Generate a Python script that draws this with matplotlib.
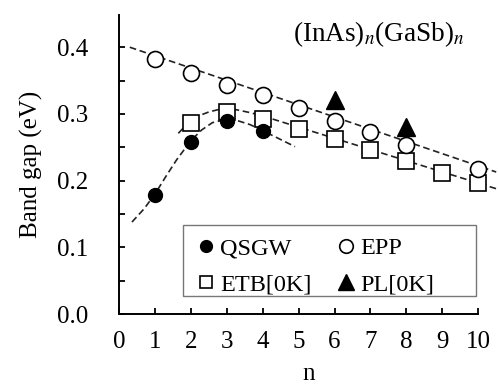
import matplotlib
matplotlib.use("Agg")
import matplotlib.pyplot as plt
from matplotlib.patches import Rectangle

plt.rcParams["font.family"] = ["Liberation Serif", "DejaVu Serif"]
plt.rcParams["mathtext.fontset"] = "stix"

# Donnees
n_qsgw = [1, 2, 3, 4]
gap_qsgw = [0.178, 0.258, 0.289, 0.275]

n_epp = [1, 2, 3, 4, 5, 6, 7, 8, 10]
gap_epp = [0.383, 0.361, 0.344, 0.329, 0.309, 0.289, 0.273, 0.253, 0.218]

n_etb = [2, 3, 4, 5, 6, 7, 8, 9, 10]
gap_etb = [0.286, 0.303, 0.292, 0.278, 0.263, 0.246, 0.229, 0.212, 0.196]

n_pl = [6, 8]
gap_pl = [0.321, 0.281]

# Courbes de tendance (pointillés)
trend_qsgw_n = [0.36, 0.7, 1.0, 1.3, 1.6, 2.0, 2.3, 2.6, 3.0, 3.3, 3.65, 4.0, 4.45, 4.9]
trend_qsgw_gap = [0.138, 0.158, 0.180, 0.206, 0.231, 0.260, 0.276, 0.287, 0.292, 0.290, 0.284, 0.275, 0.263, 0.251]

trend_etb_n = [1.65, 1.9, 2.16, 2.5, 2.8, 3.0, 3.3, 3.65, 4.0, 10.5]
trend_etb_gap = [0.271, 0.285, 0.296, 0.303, 0.307, 0.308, 0.306, 0.302, 0.297, 0.188]

trend_epp_n = [0.3, 10.5]
trend_epp_gap = [0.400, 0.213]

fig = plt.figure(figsize=(4.98, 3.85), dpi=100)
ax = fig.add_axes([0.239, 0.184, 0.761, 0.780])

dash_kw = dict(color="#222222", lw=1.2, dashes=(4, 2.2), clip_on=False, zorder=1)
ax.plot(trend_epp_n, trend_epp_gap, **dash_kw)
ax.plot(trend_etb_n, trend_etb_gap, **dash_kw)
ax.plot(trend_qsgw_n, trend_qsgw_gap, **dash_kw)

ax.plot(n_qsgw, gap_qsgw, "o", ms=10, color="black", mec="black", label="QSGW", zorder=3)
ax.plot(n_etb, gap_etb, "s", ms=11, mfc="white", mec="black", mew=1.2, label="ETB[0K]", zorder=2)
ax.plot(n_epp, gap_epp, "o", ms=11.5, mfc="white", mec="black", mew=1.2, label="EPP", zorder=2)
ax.plot(n_pl, gap_pl, "^", ms=13, color="black", label="PL[0K]", zorder=3)

ax.set_xlim(0, 10.55)
ax.set_ylim(0, 0.45)
ax.set_xticks(range(0, 11))
ax.set_yticks([0, 0.05, 0.1, 0.15, 0.2, 0.25, 0.3, 0.35, 0.4])
ax.set_yticklabels(["0.0", "", "0.1", "", "0.2", "", "0.3", "", "0.4"])
ax.tick_params(direction="in", length=4.5, width=1.3, labelsize=18)
ax.tick_params(axis="y", pad=22)
ax.tick_params(axis="x", pad=12)

for s in ["top", "right"]:
    ax.spines[s].set_visible(False)
ax.spines["left"].set_linewidth(1.4)
ax.spines["bottom"].set_linewidth(1.4)
ax.spines["bottom"].set_bounds(0, 10)
ax.spines["left"].set_bounds(0, 0.448)

ax.set_xlabel("n", fontsize=18, labelpad=7)
ax.set_ylabel("Band gap (eV)", fontsize=18, labelpad=10)

ax.text(0.686, 0.909, "(InAs)$_n$(GaSb)$_n$", transform=ax.transAxes,
        fontsize=19.5, ha="center", va="baseline")

# cadre de la légende
ax.add_patch(Rectangle((0.169, 0.06), 0.773, 0.236, transform=ax.transAxes,
                       fill=True, facecolor="white", edgecolor="#777777",
                       lw=1.0, zorder=4))

h, l = ax.get_legend_handles_labels()
leg = ax.legend(h, l, ncol=2, loc="upper left",
                bbox_to_anchor=(0.203, 0.256), frameon=False,
                fontsize=17.5, borderpad=0, borderaxespad=0,
                handlelength=0.8, handletextpad=0.2, columnspacing=1.0,
                labelspacing=0.58, markerscale=0.85)
leg.set_zorder(5)

fig.savefig("out.png", dpi=100)
